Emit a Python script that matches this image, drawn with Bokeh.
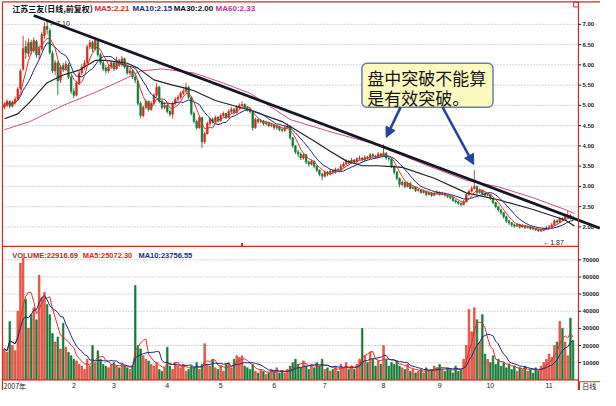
import pandas as pd
from bokeh.plotting import figure
from bokeh.models import (Range1d, ColumnDataSource, Label, BoxAnnotation, Arrow, NormalHead)
from bokeh.embed import file_html
from bokeh.resources import INLINE

# ---------------- data ----------------
opens = [4.95,5.00,5.10,4.98,5.06,5.15,5.42,5.90,6.45,6.28,6.55,6.35,6.58,6.25,6.40,6.72,6.95,6.85,6.28,5.85,
         6.05,5.62,5.98,5.90,6.00,5.70,5.35,5.25,5.55,5.80,5.95,6.05,6.45,6.55,6.40,6.58,6.25,6.05,5.92,5.85,
         5.95,6.05,5.90,6.10,6.00,6.15,5.95,5.80,5.85,5.70,5.60,5.05,4.75,4.95,5.10,4.90,5.05,5.25,5.45,5.10,
         4.95,5.00,4.85,4.78,5.05,5.15,5.20,5.30,5.35,5.45,5.20,4.80,4.60,4.45,4.70,4.10,4.30,4.55,4.65,4.60,
         4.70,4.62,4.75,4.80,4.70,4.85,4.90,4.82,4.95,5.00,5.02,4.95,4.90,4.85,4.45,4.65,4.60,4.62,4.55,4.58,
         4.50,4.52,4.45,4.48,4.40,4.38,4.45,4.48,4.20,4.00,3.85,3.80,3.70,3.78,3.60,3.55,3.62,3.50,3.40,3.30,
         3.25,3.35,3.30,3.38,3.35,3.42,3.40,3.50,3.55,3.62,3.58,3.65,3.60,3.68,3.70,3.66,3.72,3.70,3.78,3.75,
         3.72,3.80,3.76,3.82,3.70,3.68,3.50,3.35,3.20,3.05,3.10,3.00,3.08,2.95,2.98,2.90,2.92,2.85,2.88,2.80,
         2.84,2.78,2.82,2.85,2.80,2.83,2.78,2.75,2.72,2.65,2.62,2.58,2.55,2.62,2.80,2.88,2.95,3.00,2.85,2.90,
         2.82,2.78,2.80,2.70,2.60,2.50,2.42,2.35,2.25,2.15,2.10,2.05,2.02,2.06,2.00,2.03,1.98,2.00,1.96,1.95,
         1.93,1.90,1.92,1.95,1.98,2.00,2.05,2.15,2.12,2.20,2.18,2.25,2.28,2.22]
closes = [5.02,5.10,4.98,5.08,5.15,5.40,5.85,6.40,6.30,6.55,6.35,6.60,6.25,6.40,6.75,6.95,6.88,6.30,5.85,6.05,
          5.60,5.95,5.90,6.02,5.70,5.35,5.25,5.55,5.80,5.95,6.05,6.45,6.55,6.40,6.60,6.25,6.05,5.90,5.85,5.95,
          6.05,5.90,6.10,6.00,6.15,5.95,5.80,5.85,5.70,5.62,5.05,4.75,4.95,5.10,4.90,5.05,5.25,5.45,5.10,4.95,
          5.00,4.85,4.78,5.05,5.15,5.20,5.30,5.35,5.45,5.20,4.80,4.60,4.45,4.70,4.10,4.30,4.55,4.65,4.60,4.70,
          4.62,4.75,4.80,4.70,4.85,4.90,4.82,4.95,5.00,5.02,4.95,4.90,4.85,4.45,4.65,4.60,4.62,4.55,4.58,4.50,
          4.52,4.45,4.48,4.40,4.38,4.45,4.48,4.20,4.00,3.85,3.80,3.70,3.78,3.60,3.55,3.62,3.50,3.40,3.30,3.25,
          3.35,3.30,3.38,3.35,3.42,3.40,3.50,3.55,3.62,3.58,3.65,3.60,3.68,3.70,3.66,3.72,3.70,3.78,3.75,3.72,
          3.80,3.76,3.82,3.70,3.68,3.50,3.35,3.20,3.05,3.10,3.00,3.08,2.95,2.98,2.90,2.92,2.85,2.88,2.80,2.84,
          2.78,2.82,2.85,2.80,2.83,2.78,2.75,2.72,2.65,2.62,2.58,2.55,2.62,2.80,2.88,2.95,3.00,2.85,2.90,2.82,
          2.78,2.80,2.70,2.60,2.50,2.42,2.35,2.25,2.15,2.10,2.05,2.02,2.06,2.00,2.03,1.98,2.00,1.96,1.95,1.93,
          1.90,1.92,1.95,1.98,2.00,2.05,2.15,2.12,2.20,2.18,2.25,2.28,2.22,2.20]
highs = [5.08,5.15,5.12,5.12,5.22,5.45,5.90,6.72,6.60,6.65,6.62,6.68,6.62,6.48,6.82,7.05,7.10,6.90,6.35,6.12,
         6.10,6.00,6.05,6.10,6.05,5.75,5.42,5.60,5.85,6.02,6.12,6.50,6.62,6.60,6.68,6.62,6.30,6.10,6.00,6.02,
         6.10,6.08,6.20,6.15,6.22,6.18,6.00,5.92,5.88,5.75,5.62,5.10,5.00,5.15,5.12,5.10,5.30,5.55,5.48,5.15,
         5.08,5.05,4.90,5.10,5.20,5.26,5.35,5.42,5.56,5.48,5.22,4.85,4.65,4.75,4.72,4.35,4.60,4.70,4.70,4.75,
         4.74,4.80,4.85,4.82,4.90,4.96,4.94,5.00,5.05,5.10,5.05,4.98,4.95,4.86,4.70,4.68,4.67,4.64,4.62,4.60,
         4.57,4.55,4.52,4.50,4.44,4.50,4.55,4.50,4.22,4.02,3.90,3.84,3.82,3.80,3.64,3.66,3.64,3.52,3.42,3.34,
         3.40,3.38,3.42,3.42,3.46,3.45,3.55,3.60,3.67,3.65,3.70,3.68,3.72,3.76,3.73,3.77,3.76,3.83,3.82,3.78,
         3.85,3.83,4.04,3.85,3.74,3.70,3.52,3.38,3.22,3.15,3.12,3.12,3.10,3.02,3.00,2.96,2.94,2.92,2.90,2.88,
         2.86,2.86,2.90,2.88,2.87,2.85,2.80,2.78,2.74,2.68,2.64,2.60,2.66,2.84,2.92,3.00,3.40,3.02,2.95,2.92,
         2.86,2.85,2.82,2.72,2.62,2.52,2.45,2.37,2.28,2.18,2.12,2.08,2.10,2.08,2.07,2.05,2.04,2.02,1.99,1.97,
         1.95,1.95,1.98,2.02,2.05,2.10,2.18,2.18,2.25,2.24,2.30,2.40,2.32,2.28]
lows = [4.90,4.96,4.93,4.95,5.02,5.12,5.38,5.85,6.15,6.20,6.25,6.30,6.18,6.15,6.35,6.65,6.75,6.25,5.80,5.75,
        5.25,5.55,5.82,5.85,5.65,5.28,5.18,5.22,5.50,5.75,5.88,6.00,6.38,6.32,6.35,6.20,6.00,5.85,5.78,5.80,
        5.90,5.85,5.88,5.95,5.96,5.90,5.75,5.74,5.65,5.55,5.00,4.68,4.70,4.90,4.85,4.86,5.00,5.20,5.05,4.90,
        4.90,4.80,4.72,4.67,5.00,5.10,5.15,5.25,5.30,5.15,4.75,4.55,4.40,4.42,3.95,4.05,4.28,4.50,4.55,4.56,
        4.58,4.60,4.70,4.66,4.68,4.80,4.78,4.80,4.90,4.95,4.90,4.85,4.80,4.38,4.42,4.55,4.56,4.50,4.50,4.46,
        4.46,4.40,4.40,4.36,4.33,4.35,4.42,4.15,3.95,3.80,3.72,3.65,3.66,3.55,3.50,3.52,3.45,3.35,3.25,3.15,
        3.22,3.25,3.27,3.30,3.32,3.36,3.38,3.46,3.52,3.54,3.55,3.56,3.58,3.64,3.62,3.63,3.66,3.68,3.71,3.68,
        3.70,3.72,3.74,3.66,3.62,3.45,3.30,3.15,2.98,3.00,2.95,2.97,2.92,2.92,2.86,2.87,2.82,2.82,2.76,2.78,
        2.74,2.76,2.80,2.77,2.78,2.75,2.71,2.68,2.62,2.58,2.54,2.50,2.53,2.60,2.76,2.85,2.92,2.80,2.82,2.78,
        2.74,2.75,2.66,2.56,2.46,2.38,2.30,2.20,2.10,2.05,2.00,1.98,2.00,1.96,1.98,1.95,1.96,1.93,1.92,1.90,
        1.88,1.87,1.90,1.93,1.96,1.98,2.03,2.08,2.10,2.14,2.15,2.22,2.18,2.15]
volumes = [18000,16000,34000,20000,17000,40000,68000,71000,47000,30000,38000,42000,35000,61000,48000,51000,44000,38000,27000,22000,
           25000,18000,33000,19000,16000,14000,12000,11000,9000,8000,6000,12000,8000,20000,10000,17000,12000,9000,8000,7000,
           9000,10000,8000,7000,9000,8000,7000,6000,8000,55000,20000,18000,14000,12000,11000,9000,8000,10000,6000,5000,
           7000,19000,8000,6000,10000,8000,7000,9000,5000,6000,8000,7000,10000,6000,9000,21000,9000,8000,12000,7000,
           6000,8000,5000,9000,10000,7000,12000,14000,13000,14000,8000,7000,6000,9000,5000,4000,6000,5000,3000,4000,
           6000,5000,7000,4000,5000,4000,6000,8000,10000,12000,9000,7000,11000,8000,6000,9000,7000,10000,8000,12000,
           6000,7000,5000,6000,8000,5000,9000,7000,10000,6000,8000,6000,9000,12000,30000,14000,10000,16000,12000,8000,
           11000,9000,20000,12000,8000,10000,9000,11000,8000,7000,6000,9000,5000,6000,4000,5000,6000,4000,7000,5000,
           6000,8000,7000,9000,6000,5000,7000,6000,4000,8000,5000,6000,12000,20000,41000,28000,42000,35000,22000,38000,
           15000,12000,10000,14000,9000,12000,8000,10000,7000,9000,6000,8000,5000,7000,6000,8000,5000,6000,4000,7000,
           5000,8000,10000,12000,15000,13000,20000,22000,34000,30000,22000,14000,36000,22917]

ma30_idx = [0, 5, 9.5, 16, 22, 28, 34, 38, 46, 50, 56, 63, 67, 71, 79, 92, 104, 110, 116, 122, 128, 134, 140,
            149, 161, 173, 185, 198, 210, 213.5]
ma30_val = [4.67, 4.79, 5.08, 5.56, 5.75, 5.87, 6.11, 6.11, 6.04, 5.92, 5.63, 5.50, 5.44, 5.36, 5.12, 4.88, 4.60,
            4.36, 4.12, 3.87, 3.63, 3.51, 3.51, 3.47, 3.20, 2.84, 2.67, 2.43, 2.17, 2.02]
ma60_idx = [0, 9.5, 22, 34, 46, 51, 59, 71, 82, 92, 107, 122, 133, 139, 144, 159, 173, 185, 198, 210, 213.5]
ma60_val = [4.40, 4.60, 5.00, 5.32, 5.68, 5.85, 5.90, 5.80, 5.55, 5.30, 4.65, 4.35, 4.15, 4.05, 3.90, 3.50, 3.15,
            2.99, 2.72, 2.43, 2.33]
trend_x = [11.0, 223.0]
trend_y = [7.22, 1.97]

month_labels = ["2007年", "2", "3", "4", "5", "6", "7", "8", "9", "10", "11"]
month_pos = [2, 26, 41, 61, 81, 101, 120, 142, 163, 182, 204]
price_ticks = [2.0, 2.5, 3.0, 3.5, 4.0, 4.5, 5.0, 5.5, 6.0, 6.5, 7.0]
vol_ticks = [10000, 20000, 30000, 40000, 50000, 60000, 70000]

title_name = "江苏三友(日线,前复权)"
ma_legend = ["MA5:2.21", "MA10:2.15", "MA30:2.00", "MA60:2.33"]
vol_legend = ["VOLUME:22916.69", "MA5:25072.30", "MA10:23756.55"]
note_lines = ["盘中突破不能算", "是有效突破。"]
high_mark = "←7.10"
low_mark = "←1.87"
period_tag = "日线"

# ---------------- layout (canvas covers everything; no bokeh axes) ----------------
XL, XR = -1.465, 223.26          # canvas x extent, bar-index units
YB, YT = -2.038, 7.589           # canvas y extent, price units
V_LO, V_HI = -6250.0, 221307.0   # same canvas in volume units
FL, FR = -0.733, 215.0           # chart frame left/right
FT, FD, FB = 7.553, 1.519, -1.774  # frame top, panel divider, volume bottom

RED = "#d42a20"
GREEN = "#167a36"
FONT = "Liberation Sans"
CJK = "Noto Sans CJK SC"

n = len(closes)
idx = list(range(n))
up = [c >= o for o, c in zip(opens, closes)]
src = ColumnDataSource(dict(
    x=idx, o=opens, c=closes, h=highs, l=lows, v=volumes,
    top=[max(o, c) for o, c in zip(opens, closes)],
    bot=[min(o, c) for o, c in zip(opens, closes)],
    col=[RED if u else GREEN for u in up],
    vfill=["#ee6a50" if u else GREEN for u in up],
))
cs = pd.Series(closes)
vs = pd.Series(volumes, dtype=float)
ma5 = cs.rolling(5, min_periods=1).mean().tolist()
ma10 = cs.rolling(10, min_periods=1).mean().tolist()
vma5 = vs.rolling(5, min_periods=1).mean().tolist()
vma10 = vs.rolling(10, min_periods=1).mean().tolist()

p = figure(width=600, height=390, output_backend="svg", toolbar_location=None,
           x_range=Range1d(XL, XR), y_range=Range1d(YB, YT),
           x_axis_location=None, y_axis_location=None,
           min_border=0, min_border_left=0, min_border_right=0,
           min_border_top=0, min_border_bottom=0)
p.extra_y_ranges = {"vol": Range1d(V_LO, V_HI)}
p.background_fill_color = "white"
p.border_fill_color = "white"
p.outline_line_color = None
p.grid.visible = False

# dotted grid lines
gs = dict(line_color="#a8a8a8", line_dash="1 2", line_width=1)
p.segment(x0=[FL] * len(price_ticks), x1=[FR] * len(price_ticks), y0=price_ticks, y1=price_ticks, **gs)
p.segment(x0=[FL] * len(vol_ticks), x1=[FR] * len(vol_ticks), y0=vol_ticks, y1=vol_ticks,
          y_range_name="vol", **gs)

# volume bars
p.vbar(x="x", width=0.62, top="v", bottom=0, source=src, y_range_name="vol",
       fill_color="vfill", line_color="col", line_width=0.6)
p.line(idx, vma5, y_range_name="vol", line_color="#e0302a", line_width=1)
p.line(idx, vma10, y_range_name="vol", line_color="#1c2a7a", line_width=1)

# candles
p.segment(x0="x", y0="h", x1="x", y1="l", source=src, line_color="col", line_width=0.9)
p.vbar(x="x", width=0.62, top="top", bottom="bot", source=src,
       fill_color="col", line_color="col", line_width=0.6)

# moving averages
p.line(ma60_idx, ma60_val, line_color="#c8508a", line_width=1)
p.line(ma30_idx, ma30_val, line_color="#222222", line_width=1.2)
p.line(idx, ma10, line_color="#1c2a7a", line_width=1)
p.line(idx, ma5, line_color="#d8382a", line_width=1)

# trend line
p.line(trend_x, trend_y, line_color="#151525", line_width=2.8)

# red frame
fr = dict(line_color=RED, line_width=1.2)
p.segment(x0=[FL, FL, FR, FL, FL], y0=[FT, FT, FT, FD, FB],
          x1=[XR, FL, FR, FR, FR], y1=[FT, YB, YB, FD, FB], **fr)
p.quad(left=[213.2], right=[215.0], top=[7.55], bottom=[7.43], fill_color=None, line_color=RED, line_width=1)
p.segment(x0=[89.0], x1=[89.0], y0=[1.52], y1=[1.60], line_color=RED, line_width=2)

# right-hand ticks and labels
p.segment(x0=[FR] * len(price_ticks), x1=[FR + 1.0] * len(price_ticks), y0=price_ticks, y1=price_ticks,
          line_color="#222222", line_width=1)
p.segment(x0=[FR] * len(vol_ticks), x1=[FR + 1.0] * len(vol_ticks), y0=vol_ticks, y1=vol_ticks,
          y_range_name="vol", line_color="#222222", line_width=1)

def lab(x, y, text, color, size="8px", style="bold", font=FONT, align="left", yr="default"):
    p.add_layout(Label(x=x, y=y, text=text, text_color=color, text_font_size=size,
                       text_font=font, text_font_style=style, text_baseline="middle",
                       text_align=align, y_range_name=yr))

for t in price_ticks:
    lab(FR + 1.5, t, f"{t:.2f}", "#222222", size="6px")
for v in vol_ticks:
    lab(FR + 1.5, v, str(v), "#222222", size="6px", yr="vol")

# month labels
lab(FL + 0.4, -1.918, month_labels[0], "#222222", size="7px", style="normal", font=CJK)
for pos, t in zip(month_pos[1:], month_labels[1:]):
    lab(pos, -1.918, t, "#222222", size="7px", style="normal", align="center")

# period tag box
p.quad(left=[215.4], right=[224.0], top=[-1.822], bottom=[-2.10], fill_color="white",
       line_color=RED, line_width=1)
lab(216.4, -1.93, period_tag, "#222222", size="7px", style="normal", font=CJK)

# header texts
lab(2.9, 7.385, title_name, "#111111", size="8px", font=CJK)
for xx, t, c in zip([33.7, 48.0, 63.4, 79.1], ma_legend, ["#d42a20", "#1c2a7a", "#111111", "#c0308a"]):
    lab(xx, 7.385, t, c)
for xx, t, c in zip([2.9, 29.3, 50.2], vol_legend, ["#b82a22", "#d42a20", "#1c2a7a"]):
    lab(xx, 1.303, t, c, size="7.5px")

lab(16.8, 7.02, high_mark, "#222222", size="7px", style="normal")
lab(201.8, 1.62, low_mark, "#222222", size="7px", style="normal")

# note box and arrows
p.add_layout(BoxAnnotation(left=133.9, right=183.0, top=6.038, bottom=4.957,
                           fill_color="#fdfac0", fill_alpha=1.0, line_color="#6a7cb4",
                           line_width=1.5, line_alpha=1.0, border_radius=5))
lab(135.9, 5.70, note_lines[0], "#141414", size="17px", style="normal", font=CJK)
lab(135.9, 5.20, note_lines[1], "#141414", size="17px", style="normal", font=CJK)

AC = "#2343a0"
p.add_layout(Arrow(x_start=148.4, y_start=4.957, x_end=143.0, y_end=4.21, line_color=AC, line_width=2.5,
                   end=NormalHead(size=10, fill_color=AC, line_color=AC)))
p.add_layout(Arrow(x_start=164.1, y_start=4.957, x_end=175.8, y_end=3.54, line_color=AC, line_width=2.5,
                   end=NormalHead(size=10, fill_color=AC, line_color=AC)))

open("out.html", "w").write(file_html(p, INLINE))
